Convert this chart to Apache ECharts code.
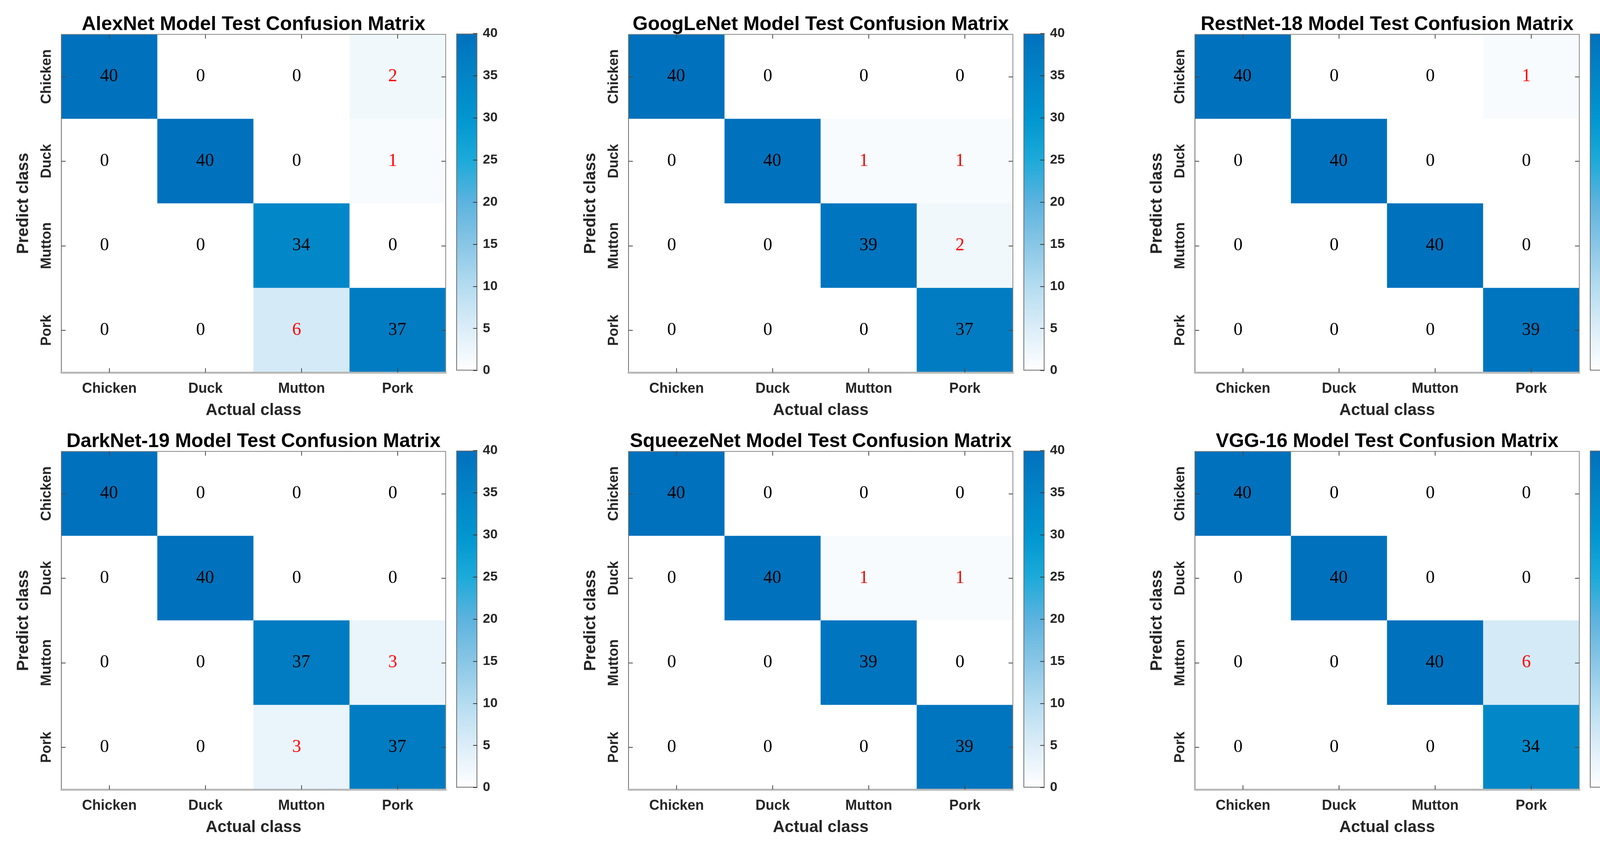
<!DOCTYPE html>
<html>
<head>
<meta charset="utf-8">
<script src="https://cdn.jsdelivr.net/npm/echarts@6/dist/echarts.min.js"></script>
<style>
html,body{margin:0;padding:0;background:#fff;overflow:hidden;}
#main{width:4217px;height:2182px;}
</style>
</head>
<body>
<div id="main"></div>
<script>
// ---------- data ----------
const categories = ['Chicken', 'Duck', 'Mutton', 'Pork'];
const modelNames = ['AlexNet', 'GoogLeNet', 'RestNet-18', 'DarkNet-19', 'SqueezeNet', 'VGG-16'];
// rows = predicted class, columns = actual class
const alexnet    = [[40, 0, 0, 2], [0, 40, 0, 1], [0, 0, 34, 0], [0, 0, 6, 37]];
const googlenet  = [[40, 0, 0, 0], [0, 40, 1, 1], [0, 0, 39, 2], [0, 0, 0, 37]];
const resnet18   = [[40, 0, 0, 1], [0, 40, 0, 0], [0, 0, 40, 0], [0, 0, 0, 39]];
const darknet19  = [[40, 0, 0, 0], [0, 40, 0, 0], [0, 0, 37, 3], [0, 0, 3, 37]];
const squeezenet = [[40, 0, 0, 0], [0, 40, 1, 1], [0, 0, 39, 0], [0, 0, 0, 39]];
const vgg16      = [[40, 0, 0, 0], [0, 40, 0, 0], [0, 0, 40, 6], [0, 0, 0, 34]];
const colorbarMin = 0;
const colorbarMax = 40;
const colorbarStep = 5;
const colormap = ['#ffffff', '#dcedf8', '#b4dcf0', '#88c6e6', '#5cb3de', '#1caad9', '#0096d0', '#0284c6', '#0071bd'];

const matrices = [alexnet, googlenet, resnet18, darknet19, squeezenet, vgg16];

// ---------- layout ----------
const colLeft = [157, 1609, 3059];
const rowTop = [88, 1156];
const W = 984, H = 866;
const sans = "'Liberation Sans', Arial, Helvetica, sans-serif";
const serif = "'Liberation Serif', 'Times New Roman', serif";
const txt = '#262626';

const grids = [], xAxes = [], yAxes = [], series = [], titles = [];
const heatIdx = [];

const gradStops = colormap.map((c, i) => ({ offset: i / (colormap.length - 1), color: c }));

matrices.forEach((m, i) => {
  const c = i % 3, r = Math.floor(i / 3);
  const L = colLeft[c], T = rowTop[r];
  const gH = grids.length;
  grids.push({ left: L, top: T, width: W, height: H });
  const gC = grids.length;
  grids.push({ left: L + W + 27, top: T - 2, width: 54, height: H - 3 });

  titles.push({
    text: modelNames[i] + ' Model Test Confusion Matrix',
    left: L + W / 2, top: T - 50, textAlign: 'center', padding: 0,
    textStyle: { fontSize: 50, fontWeight: 'bold', color: '#000', fontFamily: sans }
  });

  const tick = { show: true, inside: true, alignWithLabel: true, length: 11, lineStyle: { color: '#4a4a4a', width: 2 } };
  const xB = xAxes.length;
  xAxes.push({
    type: 'category', data: categories, gridIndex: gH, position: 'bottom', z: 5,
    axisLine: { show: true, lineStyle: { color: '#b8b8b8', width: 5 } },
    axisTick: tick,
    axisLabel: { fontSize: 36, fontWeight: 'bold', color: txt, margin: 24, fontFamily: sans },
    name: 'Actual class', nameLocation: 'middle', nameGap: 76,
    nameTextStyle: { fontSize: 42, fontWeight: 'bold', color: txt, fontFamily: sans },
    splitLine: { show: false }
  });
  xAxes.push({
    type: 'category', data: categories, gridIndex: gH, position: 'top', z: 5,
    axisLine: { show: true, lineStyle: { color: '#8a8a8a', width: 2 } },
    axisTick: tick, axisLabel: { show: false }, splitLine: { show: false }
  });
  const yL = yAxes.length;
  yAxes.push({
    type: 'category', data: categories, gridIndex: gH, position: 'left', inverse: true, z: 5,
    axisLine: { show: true, lineStyle: { color: '#6e6e6e', width: 2 } },
    axisTick: tick,
    axisLabel: { fontSize: 36, fontWeight: 'bold', color: txt, margin: 19, rotate: 90, fontFamily: sans },
    name: 'Predict class', nameLocation: 'middle', nameGap: 76, nameRotate: 90,
    nameTextStyle: { fontSize: 42, fontWeight: 'bold', color: txt, fontFamily: sans },
    splitLine: { show: false }
  });
  yAxes.push({
    type: 'category', data: categories, gridIndex: gH, position: 'right', inverse: true, z: 5,
    axisLine: { show: true, lineStyle: { color: '#8a8a8a', width: 2 } },
    axisTick: tick, axisLabel: { show: false }, splitLine: { show: false }
  });

  const data = [];
  m.forEach((row, ri) => row.forEach((v, ci) => {
    data.push({
      value: [ci, ri, v],
      label: { color: (ri !== ci && v > 0) ? '#ff0000' : '#000000' }
    });
  }));
  heatIdx.push(series.length);
  series.push({
    type: 'heatmap', xAxisIndex: xB, yAxisIndex: yL, data: data,
    label: {
      show: true, fontSize: 46, fontFamily: serif, align: 'left', offset: [-24, 0],
      formatter: p => String(p.value[2])
    },
    itemStyle: { borderWidth: 0 },
    emphasis: { disabled: true }
  });

  const xc = xAxes.length;
  xAxes.push({
    type: 'category', data: [''], gridIndex: gC,
    axisLine: { show: false }, axisTick: { show: false }, axisLabel: { show: false }
  });
  const yc = yAxes.length;
  yAxes.push({
    type: 'value', gridIndex: gC, position: 'right', min: colorbarMin, max: colorbarMax, interval: colorbarStep, z: 5,
    axisLine: { show: false },
    axisTick: { show: true, inside: true, length: 11, lineStyle: { color: '#3a3a3a', width: 2 } },
    axisLabel: { fontSize: 34, fontWeight: 'bold', color: txt, margin: 14, fontFamily: sans },
    splitLine: { show: false }
  });
  series.push({
    type: 'bar', xAxisIndex: xc, yAxisIndex: yc, data: [colorbarMax], barWidth: '100%', silent: true,
    itemStyle: {
      color: new echarts.graphic.LinearGradient(0, 1, 0, 0, gradStops),
      borderColor: '#6d6d6d', borderWidth: 2
    }
  });
});

const chart = echarts.init(document.getElementById('main'), null, { renderer: 'canvas' });
chart.setOption({
  backgroundColor: '#ffffff',
  animation: false,
  title: titles,
  grid: grids,
  xAxis: xAxes,
  yAxis: yAxes,
  visualMap: {
    show: false, type: 'continuous', min: colorbarMin, max: colorbarMax,
    seriesIndex: heatIdx, dimension: 2,
    inRange: { color: colormap }
  },
  series: series
});
</script>
</body>
</html>
